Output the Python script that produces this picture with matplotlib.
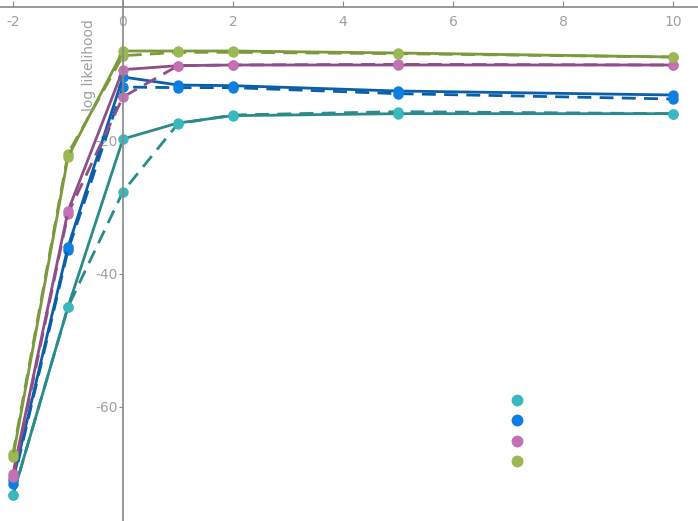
import matplotlib.pyplot as plt
from matplotlib.lines import Line2D

x = [-2, -1, 0, 1, 2, 5, 10]

# solid / dashed series per colour
green_solid = [-67.5, -22.5, -6.6, -6.6, -6.6, -6.9, -7.5]
green_dash = [-67.0, -22.0, -7.3, -6.8, -6.8, -7.0, -7.5]
pink_solid = [-70.0, -30.6, -9.4, -8.8, -8.7, -8.7, -8.7]
pink_dash = [-70.5, -31.0, -13.5, -8.8, -8.7, -8.6, -8.7]
blue_solid = [-71.0, -36.0, -10.5, -11.7, -11.8, -12.6, -13.2]
blue_dash = [-71.5, -36.5, -12.0, -12.1, -12.1, -13.0, -13.8]
teal_solid = [-73.2, -45.0, -19.8, -17.4, -16.3, -16.0, -16.0]
teal_dash = [-73.2, -45.0, -27.7, -17.5, -16.2, -15.7, -16.0]

yticks = [-20, -40, -60]
xticks = [-2, 0, 2, 4, 6, 8, 10]

series = [
    (teal_solid, teal_dash, "#2a8a8c", "#3ab9bd"),
    (blue_solid, blue_dash, "#0a5fa8", "#0c7fe0"),
    (pink_solid, pink_dash, "#8f4e87", "#c570b5"),
    (green_solid, green_dash, "#7a9a3c", "#9bb853"),
]

fig = plt.figure(figsize=(6.98, 5.21), dpi=100)
ax = fig.add_axes([0, 0, 1, 1])

for solid, dash, lc, mc in series:
    ax.plot(x, dash, color=lc, lw=2, ls=(0, (5, 3)), marker="o", ms=6.5,
            mfc=mc, mec=mc)
    ax.plot(x, solid, color=lc, lw=2, marker="o", ms=6.5, mfc=mc, mec=mc)

ax.set_xlim(-2.236, 10.455)
ax.set_ylim(-77.1, 1.05)

ax.spines["left"].set_position(("data", 0))
ax.spines["top"].set_position(("data", 0))
ax.spines["right"].set_visible(False)
ax.spines["bottom"].set_visible(False)
for s in ("left", "top"):
    ax.spines[s].set_color("#888888")
    ax.spines[s].set_linewidth(1.2)

ax.xaxis.set_ticks_position("top")
ax.set_xticks(xticks)
ax.set_xticklabels([str(v) for v in xticks])
ax.tick_params(axis="x", direction="out", length=4, color="#888888",
               labeltop=True, pad=-20, labelcolor="#a0a0a0", labelsize=10)
ax.set_yticks(yticks)
ax.set_yticklabels(["-20", "-40", "-60"])
ax.tick_params(axis="y", direction="out", length=3, color="#888888",
               labelcolor="#a0a0a0", labelsize=10, pad=1)

ax.text(-0.62, -1.8, "log likelihood", rotation=90, ha="center", va="top",
        color="#a0a0a0", fontsize=10)

handles = [Line2D([], [], ls="", marker="o", ms=7.5, mfc=mc, mec=mc)
           for _, _, _, mc in series]
ax.legend(handles, [" "] * 4, loc="upper left", bbox_to_anchor=(0.713, 0.268),
          frameon=False, handletextpad=0.2, labelspacing=0.45,
          handlelength=1.0)

fig.savefig("out.png", dpi=100)
